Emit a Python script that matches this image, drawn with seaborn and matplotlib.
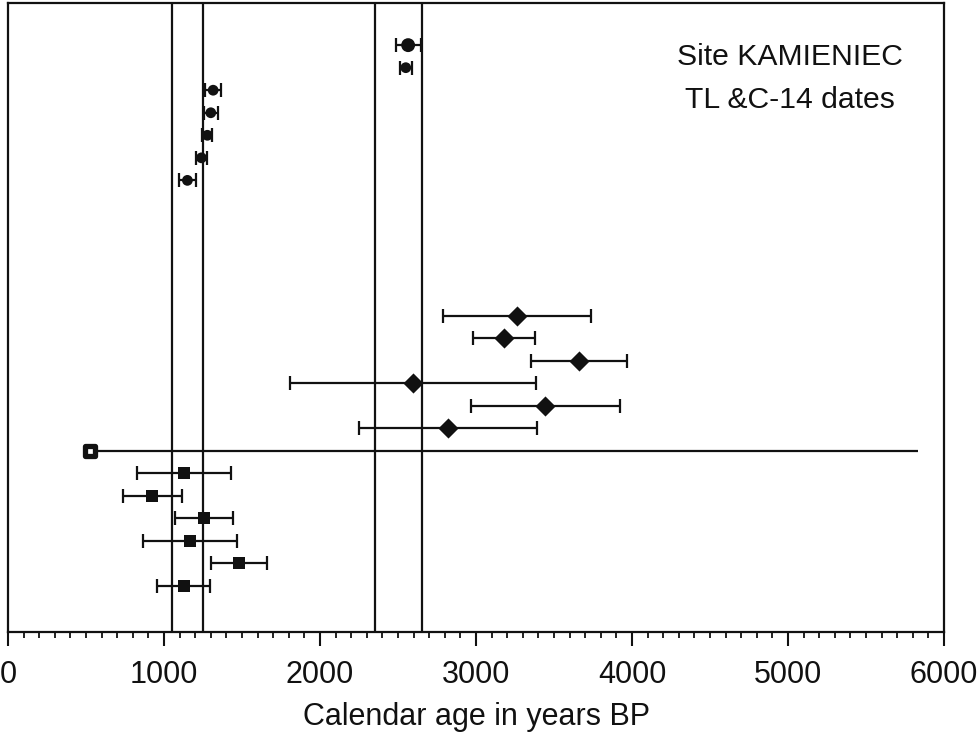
import matplotlib
matplotlib.use("Agg")
import matplotlib.pyplot as plt
import seaborn as sns
import pandas as pd
import numpy as np

# ---- data ----
circle_rows = [25, 24, 23, 22, 21, 20, 19]
circle_age = [2565, 2550, 1315, 1300, 1278, 1240, 1150]
circle_err = [80, 40, 50, 43, 32, 34, 52]

diamond_rows = [13, 12, 11, 10, 9, 8]
diamond_age = [3265, 3180, 3660, 2595, 3445, 2820]
diamond_err = [475, 200, 310, 790, 480, 570]

open_rows = [7]
open_age = [525]
open_err_lo = [0]
open_err_hi = [5310]

square_rows = [6, 5, 4, 3, 2, 1]
square_age = [1128, 925, 1256, 1166, 1480, 1128]
square_err = [300, 190, 185, 300, 180, 170]

vlines = [1050, 1250, 2355, 2655]
xticks = [0, 1000, 2000, 3000, 4000, 5000, 6000]
title_lines = ["Site KAMIENIEC", "TL &C-14 dates"]
xlabel = "Calendar age in years BP"

sns.set_style("ticks")
plt.rcParams['font.family'] = ['Liberation Sans', 'DejaVu Sans']

ink = '#111111'
fig = plt.figure(figsize=(9.8, 7.33), dpi=100)
ax = fig.add_axes([8/980, 1-632/733, (944-8)/980, (632-3)/733])

for v in vlines:
    ax.axvline(v, color=ink, lw=1.6, zorder=1)

ekw = dict(fmt='none', ecolor=ink, elinewidth=1.6, capsize=5, capthick=1.6, zorder=2)
ax.errorbar(circle_age, circle_rows, xerr=circle_err, **ekw)
ax.errorbar(diamond_age, diamond_rows, xerr=diamond_err, **ekw)
ax.errorbar(square_age, square_rows, xerr=square_err, **ekw)
ax.errorbar(open_age, open_rows, xerr=[open_err_lo, open_err_hi], fmt='none',
            ecolor=ink, elinewidth=1.6, capsize=0, zorder=2)

circ = pd.DataFrame({'age': circle_age, 'row': circle_rows})
circ['sz'] = [100] + [60] * (len(circle_rows) - 1)
sns.scatterplot(data=circ, x='age', y='row', size='sz', sizes=(60, 100), marker='o',
                color=ink, edgecolor=ink, linewidth=0, legend=False, ax=ax, zorder=3)
dia = pd.DataFrame({'age': diamond_age, 'row': diamond_rows})
sns.scatterplot(data=dia, x='age', y='row', marker='D', s=105, color=ink,
                edgecolor=ink, linewidth=0, legend=False, ax=ax, zorder=3)
sq = pd.DataFrame({'age': square_age, 'row': square_rows})
sns.scatterplot(data=sq, x='age', y='row', marker='s', s=80, color=ink,
                edgecolor=ink, linewidth=0, legend=False, ax=ax, zorder=3)
op = pd.DataFrame({'age': open_age, 'row': open_rows})
sns.scatterplot(data=op, x='age', y='row', marker='s', s=55, color='white',
                edgecolor=ink, linewidth=3.8, legend=False, ax=ax, zorder=3)

ax.set_xlim(0, 6000)
ax.set_ylim(-1.04, 26.87)
ax.set_yticks([])
ax.set_xticks(xticks)
ax.set_xticks(np.arange(0, 6001, 100), minor=True)
ax.tick_params(axis='x', which='major', length=10, width=1.5, color=ink,
               labelsize=22, pad=10, labelcolor=ink)
ax.tick_params(axis='x', which='minor', length=4, width=1.3, color=ink)
ax.set_xlabel(xlabel, fontsize=22, color=ink, labelpad=9)
ax.set_ylabel('')
for s in ax.spines.values():
    s.set_linewidth(1.6)
    s.set_color(ink)
    s.set_visible(True)

ax.text(5010, 24.48, title_lines[0], ha='center', va='center', fontsize=21.7, color=ink)
ax.text(5010, 22.55, title_lines[1], ha='center', va='center', fontsize=21.7, color=ink)

fig.savefig('out.png', dpi=100)
